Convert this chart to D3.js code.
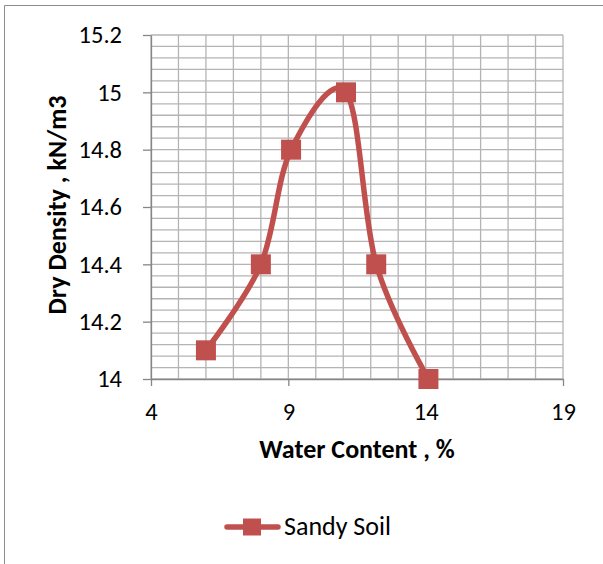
<!DOCTYPE html>
<html>
<head>
<meta charset="utf-8">
<script src="https://cdn.jsdelivr.net/npm/d3@7"></script>
<style>
  body { margin: 0; background: #fff; }
  svg { display: block; font-family: Carlito, Calibri, Lato, sans-serif; }
</style>
</head>
<body>
<svg id="content"></svg>
<script>
// data
const waterContent = [6, 8, 9.1, 11.1, 12.2, 14.1];
const dryDensity = [14.1, 14.4, 14.8, 15.0, 14.4, 14.0];
const xTickValues = [4, 9, 14, 19];
const yTickValues = [14, 14.2, 14.4, 14.6, 14.8, 15, 15.2];
const seriesName = "Sandy Soil";

const W = 603, H = 564;
const margin = { top: 35, right: 40, bottom: 185, left: 151 },
      width = W - margin.left - margin.right,
      height = H - margin.top - margin.bottom;

const red = "#C0504D", grid = "#b4b4b4", axisCol = "#868686";
const fontFam = "Carlito, Calibri, Lato, sans-serif";

const svg = d3.select("#content").attr("width", W).attr("height", H);

// chart frame (only top and left edges show in the picture)
svg.append("path")
    .attr("d", `M4.5,${H} V5.5 H${W}`)
    .attr("fill", "none")
    .attr("stroke", "#8c8c8c")
    .attr("stroke-width", 1);

const x = d3.scaleLinear().domain([4, 19]).range([0, width]);
const y = d3.scaleLinear().domain([14, 15.2]).range([height, 0]);

const cnt = svg.append("g")
    .attr("transform", `translate(${margin.left},${margin.top})`);

// gridlines: vertical every 1, horizontal every 0.04
const xGrid = d3.range(4, 19.001, 1);
const yGrid = d3.range(0, 31).map(i => 14 + i * 0.04);

cnt.append("g").selectAll("line")
    .data(xGrid)
    .enter().append("line")
      .attr("x1", d => x(d)).attr("x2", d => x(d))
      .attr("y1", 0).attr("y2", height)
      .attr("stroke", grid).attr("stroke-width", 1.3);

cnt.append("g").selectAll("line")
    .data(yGrid)
    .enter().append("line")
      .attr("x1", 0).attr("x2", width)
      .attr("y1", d => y(d)).attr("y2", d => y(d))
      .attr("stroke", grid).attr("stroke-width", 1.3);

// axes
const xAxis = cnt.append("g")
    .attr("transform", `translate(0,${height})`)
    .call(d3.axisBottom(x).tickValues(xTickValues).tickSize(7).tickPadding(17).tickSizeOuter(0));

const yAxis = cnt.append("g")
    .call(d3.axisLeft(y).tickValues(yTickValues).tickSize(8).tickPadding(21).tickSizeOuter(0)
        .tickFormat(d => String(+d.toFixed(1))));

[xAxis, yAxis].forEach(a => {
    a.select(".domain").attr("stroke", axisCol).attr("stroke-width", 1.3);
    a.selectAll(".tick line").attr("stroke", axisCol).attr("stroke-width", 1.3);
    a.selectAll("text").attr("font-family", fontFam)
        .attr("font-size", 24.5).attr("fill", "#000");
});

// smoothed series line
const pts = waterContent.map((w, i) => [w, dryDensity[i]]);
const line = d3.line()
    .x(d => x(d[0]))
    .y(d => y(d[1]))
    .curve(d3.curveCardinal.tension(0));

cnt.append("path")
    .datum(pts)
    .attr("d", line)
    .attr("fill", "none")
    .attr("stroke", red)
    .attr("stroke-width", 5.5)
    .attr("stroke-linecap", "round");

const ms = 20;
cnt.selectAll("rect.mk")
    .data(pts)
    .enter().append("rect")
      .attr("class", "mk")
      .attr("x", d => x(d[0]) - ms / 2)
      .attr("y", d => y(d[1]) - ms / 2)
      .attr("width", ms).attr("height", ms)
      .attr("fill", red);

// axis titles
svg.append("text")
    .attr("x", margin.left + width / 2)
    .attr("y", 458)
    .attr("text-anchor", "middle")
    .attr("font-size", 26).attr("font-weight", "bold")
    .text("Water Content , %");

svg.append("text")
    .attr("transform", "translate(66,205) rotate(-90)")
    .attr("text-anchor", "middle")
    .attr("font-size", 26).attr("font-weight", "bold")
    .text("Dry Density , kN/m3");

// legend
const lg = svg.append("g").attr("transform", "translate(225,527)");
lg.append("line")
    .attr("x1", 2).attr("x2", 53).attr("y1", 0).attr("y2", 0)
    .attr("stroke", red).attr("stroke-width", 5.5).attr("stroke-linecap", "round");
lg.append("rect")
    .attr("x", 18).attr("y", -8.5).attr("width", 18).attr("height", 17)
    .attr("fill", red);
lg.append("text")
    .attr("x", 59).attr("y", 7.5)
    .attr("font-size", 26)
    .text(seriesName);
</script>
</body>
</html>
